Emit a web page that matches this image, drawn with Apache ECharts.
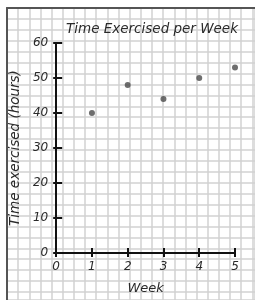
<!DOCTYPE html>
<html>
<head>
<meta charset="utf-8">
<script src="https://cdn.jsdelivr.net/npm/echarts@6/dist/echarts.min.js"></script>
<style>
  html, body { margin: 0; padding: 0; background: #fff; }
  #main { width: 255px; height: 300px; }
</style>
</head>
<body>
<div id="main"></div>
<script>
// data
const weeks = [1, 2, 3, 4, 5]
const hours = [40, 48, 44, 50, 53]
const xTicks = [0, 1, 2, 3, 4, 5]
const yTicks = [0, 10, 20, 30, 40, 50, 60]

const font = 'DejaVu Sans'
const ink = '#2a2a2a'

let myChart = echarts.init(document.getElementById('main'))

// graph paper cells, in pixels
const cellW = 12.05
const cellH = 11.67

const lbl = {
  color: ink,
  fontFamily: font,
  fontStyle: 'italic',
  fontSize: 12
}

myChart.setOption({
  animation: false,
  title: {
    text: 'Time Exercised per Week',
    left: 61,
    top: 17,
    textStyle: {
      color: ink,
      fontFamily: font,
      fontStyle: 'italic',
      fontWeight: 'normal',
      fontSize: 13.5
    }
  },
  grid: [
    // paper
    { left: 7, top: 8, right: -20, bottom: -20 },
    // plot
    { left: 55, top: 43, width: 180, height: 210 }
  ],
  xAxis: [
    {
      gridIndex: 0, type: 'value', position: 'top',
      min: 0, max: 268 / cellW, interval: 1,
      axisLine: { show: true, lineStyle: { color: '#555', width: 2 } },
      axisTick: { show: false }, axisLabel: { show: false },
      splitLine: { show: true, lineStyle: { color: '#d2d2d2', width: 1.5 } }
    },
    {
      gridIndex: 1, type: 'value', position: 'bottom',
      min: 0, max: 5, interval: 1,
      name: 'Week', nameLocation: 'middle', nameGap: 29,
      nameTextStyle: { color: ink, fontFamily: font, fontStyle: 'italic', fontSize: 13 },
      axisLine: { show: true, lineStyle: { color: '#111', width: 2 } },
      axisTick: { show: true, inside: true, length: 5, lineStyle: { color: '#111', width: 2 } },
      axisLabel: Object.assign({ margin: 8, formatter: v => xTicks.includes(v) ? String(v) : '' }, lbl),
      splitLine: { show: false }
    },
    {
      gridIndex: 1, type: 'value', position: 'bottom',
      min: 0, max: 5, interval: 1,
      axisLine: { show: false },
      axisTick: { show: true, inside: false, length: 4, lineStyle: { color: '#111', width: 2 } },
      axisLabel: { show: false },
      splitLine: { show: false }
    }
  ],
  yAxis: [
    {
      gridIndex: 0, type: 'value', position: 'left', inverse: true,
      min: 0, max: 312 / cellH, interval: 1,
      axisLine: { show: true, lineStyle: { color: '#555', width: 2 } },
      axisTick: { show: false }, axisLabel: { show: false },
      splitLine: { show: true, lineStyle: { color: '#d2d2d2', width: 1.5 } }
    },
    {
      gridIndex: 1, type: 'value', position: 'left',
      min: 0, max: 60, interval: 10,
      name: 'Time exercised (hours)', nameLocation: 'middle', nameGap: 32,
      nameTextStyle: { color: ink, fontFamily: font, fontStyle: 'italic', fontSize: 13.5 },
      axisLine: { show: true, lineStyle: { color: '#111', width: 2 } },
      axisTick: { show: true, inside: true, length: 6, lineStyle: { color: '#111', width: 2 } },
      axisLabel: Object.assign({ margin: 8, formatter: v => yTicks.includes(v) ? String(v) : '' }, lbl),
      splitLine: { show: false }
    },
    {
      gridIndex: 1, type: 'value', position: 'left',
      min: 0, max: 60, interval: 10,
      axisLine: { show: false },
      axisTick: { show: true, inside: false, length: 3, lineStyle: { color: '#111', width: 2 } },
      axisLabel: { show: false },
      splitLine: { show: false }
    }
  ],
  series: [{
    type: 'scatter',
    xAxisIndex: 1,
    yAxisIndex: 1,
    symbolSize: 6,
    itemStyle: { color: '#4a4a4a' },
    data: weeks.map((w, i) => [w, hours[i]])
  }]
})
</script>
</body>
</html>
